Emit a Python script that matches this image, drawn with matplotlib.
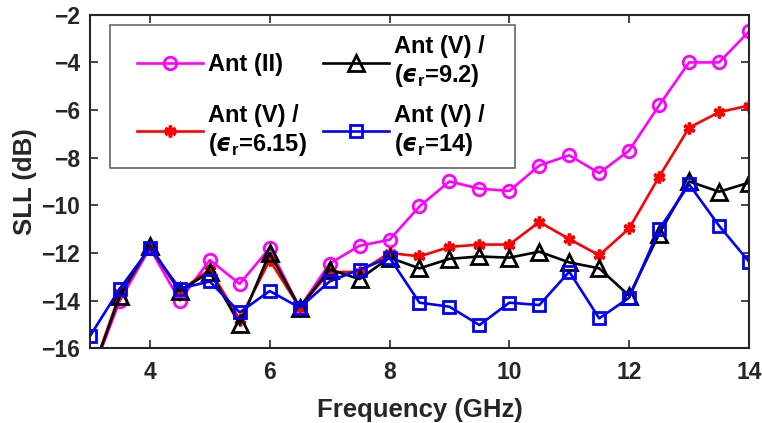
import numpy as np
import matplotlib
matplotlib.use("Agg")
import matplotlib.pyplot as plt
from matplotlib.lines import Line2D
from matplotlib.legend_handler import HandlerLine2D

# SLL vs frequency for the antenna variants
freq = [3, 3.5, 4, 4.5, 5, 5.5, 6, 6.5, 7, 7.5, 8, 8.5, 9, 9.5, 10,
        10.5, 11, 11.5, 12, 12.5, 13, 13.5, 14]

sll_ant2 = [-17.3, -14.0, -11.8, -14.0, -12.3, -13.3, -11.8, -14.3, -12.45, -11.7, -11.45, -10.05,
            -9.0, -9.3, -9.4, -8.33, -7.9, -8.65, -7.7, -5.8, -4.0, -4.0, -2.7]
sll_er615 = [-17.3, -13.7, -11.8, -13.6, -12.7, -14.8, -12.3, -14.3, -12.8, -12.8, -12.0, -12.15,
             -11.75, -11.65, -11.65, -10.7, -11.42, -12.1, -10.97, -8.8, -6.74, -6.09, -5.81]
sll_er92 = [-17.3, -13.8, -11.7, -13.6, -12.8, -15.0, -12.0, -14.3, -12.7, -13.1, -12.2, -12.65,
            -12.25, -12.15, -12.2, -11.95, -12.4, -12.65, -13.8, -11.2, -9.0, -9.43, -9.05]
sll_er14 = [-15.5, -13.5, -11.8, -13.5, -13.2, -14.5, -13.6, -14.3, -13.2, -12.7, -12.2, -14.09,
            -14.26, -15.03, -14.09, -14.19, -12.79, -14.75, -13.88, -11.01, -9.12, -10.86, -12.37]

plt.rcParams['font.family'] = ['Liberation Sans', 'DejaVu Sans']
plt.rcParams['font.weight'] = 'bold'
plt.rcParams['mathtext.fontset'] = 'custom'
plt.rcParams['mathtext.rm'] = 'Liberation Sans:bold'
plt.rcParams['mathtext.it'] = 'DejaVu Sans:italic'
plt.rcParams['mathtext.bf'] = 'Liberation Sans:bold'

fig = plt.figure(figsize=(7.62, 4.23), dpi=100)
ax = fig.add_axes([0.118, 0.177, 0.865, 0.788])

lw = 1.9
ax.plot(freq, sll_ant2, color='#ff00ff', lw=lw, marker='o', ms=9, mfc='none', mew=2,
        label='Ant (II)')
ax.plot(freq, sll_er615, color='#ff0000', lw=lw, marker=(6, 2, 0), ms=8.5, mew=2.5,
        label='Ant (V) /\n($ϵ_{\\mathbf{r}}$=6.15)')
ax.plot(freq, sll_er92, color='black', lw=lw, marker='^', ms=11, mfc='none', mew=2,
        label='Ant (V) /   \n($ϵ_{\\mathbf{r}}$=9.2)')
ax.plot(freq, sll_er14, color='#0000ff', lw=lw, marker='s', ms=8.5, mfc='none', mew=2,
        label='Ant (V) /   \n($ϵ_{\\mathbf{r}}$=14)')

ax.set_xlim(3, 14)
ax.set_ylim(-16, -2)
ax.set_xticks([4, 6, 8, 10, 12, 14])
ax.set_yticks(np.arange(-16, -1, 2))
ax.tick_params(direction='in', top=True, right=True, length=6, width=1.2,
               labelsize=16.5, colors='#262626', labelcolor='#262626')
ax.tick_params(axis='x', pad=9)
ax.tick_params(axis='y', pad=7)
for s in ax.spines.values():
    s.set_linewidth(1.5)
    s.set_color('#262626')

ax.set_xlabel('Frequency (GHz)', fontsize=18.5, fontweight='bold', color='#262626', labelpad=10)
ax.set_ylabel('SLL (dB)', fontsize=18.5, fontweight='bold', color='#262626', labelpad=3)

leg = ax.legend(ncol=2, loc='upper left', bbox_to_anchor=(0.03, 0.97), fontsize=17,
                handlelength=3.5, handleheight=0.7, columnspacing=0.0, labelspacing=0.6,
                handletextpad=0.2, borderpad=0.45, borderaxespad=0, fancybox=False,
                framealpha=1, edgecolor='#666666',
                handler_map={Line2D: HandlerLine2D(xpad=0.7)})
leg.get_frame().set_linewidth(1.2)

# make the single-line entry as tall as its two-line neighbour so the rows line up
renderer = fig.canvas.get_renderer()
px = renderer.points_to_pixels(1.0)
cols = leg._legend_handle_box.get_children()
first = cols[0].get_children()[0]
other = cols[1].get_children()[0]
b2 = other.get_bbox(renderer)
da = first.get_children()[0]
da.ydescent = max(da.ydescent, -b2.y0 / px)
da.height = max(da.height, b2.y1 / px + da.ydescent)

fig.savefig('out.png', dpi=100)
